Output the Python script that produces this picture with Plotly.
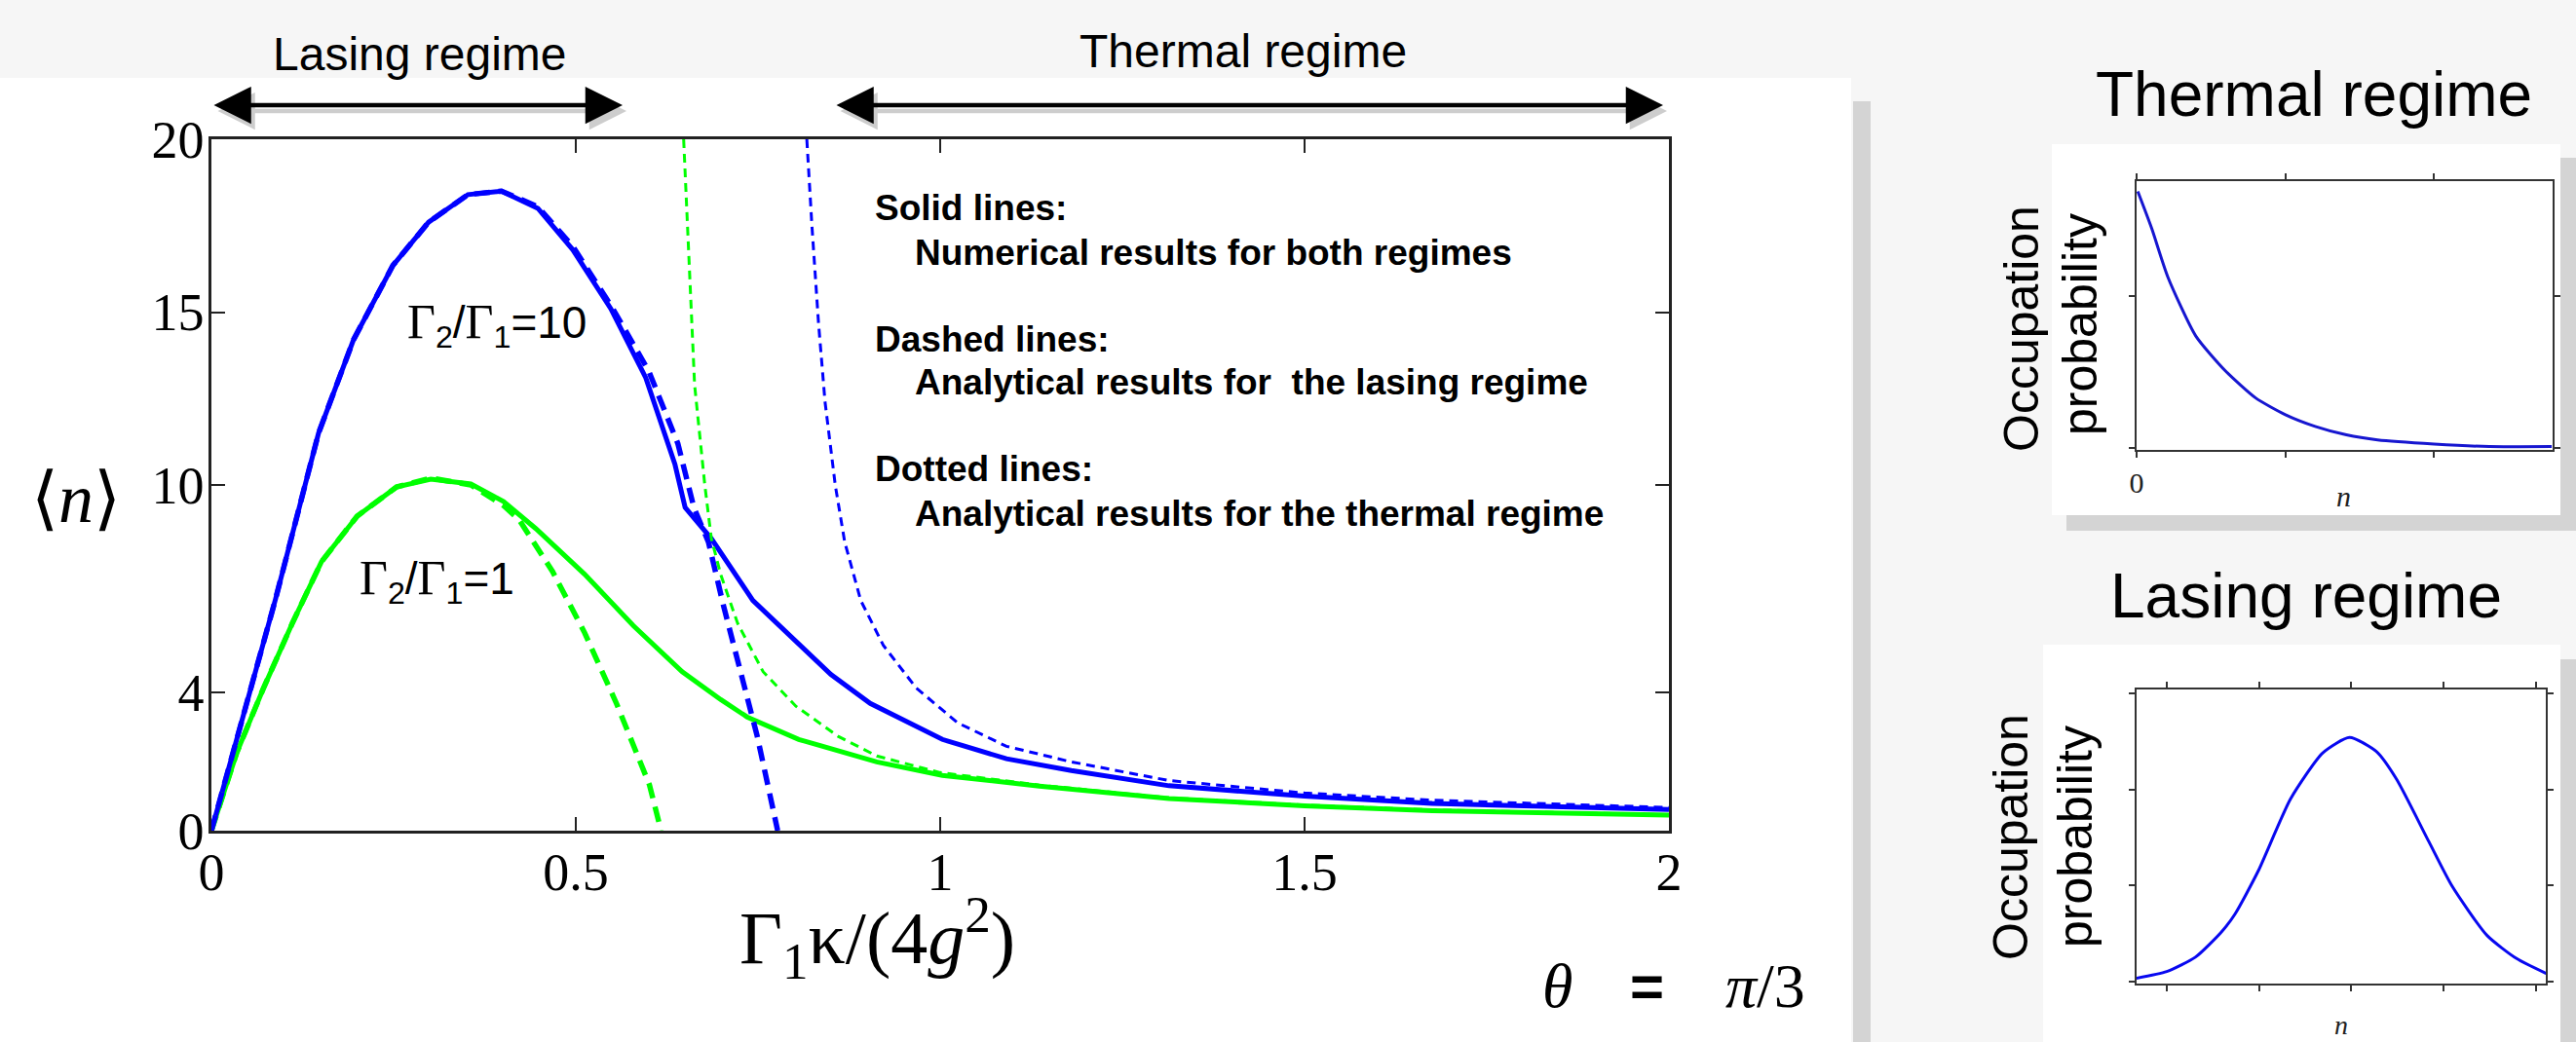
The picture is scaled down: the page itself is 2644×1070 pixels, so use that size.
import plotly.graph_objects as go

W, H = 2644, 1070

# ---------------- main panel data (x = Gamma1*kappa/(4g^2), y = <n>) ----------------
blue_num_x = [0, 0.044, 0.088, 0.131, 0.147, 0.195, 0.249, 0.298, 0.352, 0.398, 0.448, 0.496,
              0.548, 0.596, 0.636, 0.650, 0.686, 0.743, 0.793, 0.850, 0.904, 1.003, 1.091,
              1.180, 1.314, 1.500, 1.675, 2.0]
blue_num_y = [0, 3.3, 6.7, 10.2, 11.5, 14.2, 16.35, 17.6, 18.4, 18.5, 18.0, 16.8,
              15.1, 13.1, 10.6, 9.35, 8.45, 6.66, 5.65, 4.52, 3.68, 2.64, 2.08,
              1.74, 1.30, 1.00, 0.79, 0.61]

blue_las_x = [0, 0.044, 0.088, 0.131, 0.147, 0.195, 0.249, 0.298, 0.352, 0.398, 0.448, 0.496,
              0.548, 0.600, 0.640, 0.662, 0.682, 0.703, 0.726, 0.749, 0.777]
blue_las_y = [0, 3.3, 6.7, 10.2, 11.5, 14.2, 16.35, 17.6, 18.4, 18.5, 18.05, 16.9,
              15.2, 13.3, 11.2, 9.35, 8.35, 6.48, 4.6, 2.73, 0.0]

blue_th_x = [0.817, 0.824, 0.833, 0.842, 0.856, 0.869, 0.891, 0.922, 0.967, 1.024, 1.091,
             1.180, 1.314, 1.500, 1.675, 2.0]
blue_th_y = [20.0, 17.5, 14.7, 12.4, 10.0, 8.35, 6.66, 5.36, 4.13, 3.12, 2.44,
             1.99, 1.45, 1.09, 0.88, 0.67]

green_num_x = [0, 0.035, 0.071, 0.111, 0.151, 0.200, 0.254, 0.301, 0.356, 0.401, 0.445, 0.512,
               0.579, 0.646, 0.699, 0.735, 0.806, 0.913, 1.003, 1.136, 1.314, 1.500, 1.675, 2.0]
green_num_y = [0, 2.27, 4.1, 6.0, 7.78, 9.1, 9.94, 10.17, 10.03, 9.52, 8.74, 7.42,
               5.93, 4.6, 3.79, 3.29, 2.64, 1.99, 1.6, 1.29, 0.93, 0.72, 0.58, 0.45]

green_las_x = [0, 0.035, 0.071, 0.111, 0.151, 0.200, 0.254, 0.301, 0.356, 0.401, 0.422, 0.468,
               0.512, 0.556, 0.601, 0.617]
green_las_y = [0, 2.27, 4.1, 6.0, 7.78, 9.1, 9.94, 10.2, 10.0, 9.4, 9.0, 7.5,
               5.73, 3.67, 1.33, 0.0]

green_th_x = [0.648, 0.655, 0.663, 0.677, 0.686, 0.699, 0.722, 0.757, 0.802, 0.860, 0.913,
              1.0, 1.136, 1.314, 1.500, 1.675, 2.0]
green_th_y = [20.0, 16.6, 12.9, 10.0, 8.45, 7.4, 6.0, 4.6, 3.6, 2.73, 2.16,
              1.68, 1.32, 0.95, 0.74, 0.60, 0.46]

x_tick_vals = [0, 0.5, 1, 1.5, 2]
x_tick_text = ["0", "0.5", "1", "1.5", "2"]
y_tick_vals = [0, 4, 10, 15, 20]
y_tick_text = ["0", "4", "10", "15", "20"]

# ---------------- inset data ----------------
thermal_n = [0.08, 1.01, 2.1, 3.97, 5.98, 8.0, 10.0, 12.0, 14.1, 16.2, 20.0, 23.7, 27.9]
thermal_p = [0.1688, 0.1446, 0.1125, 0.0738, 0.0506, 0.0329, 0.0219, 0.0142, 0.0086,
             0.0053, 0.0026, 0.0009, 0.0009]

lasing_n = [6.7, 10.0, 13.1, 15.9, 17.4, 19.9, 23.4, 26.9, 29.8, 32.7, 34.9, 38.4,
            40.9, 44.7, 47.9, 51.1]
lasing_p = [0.0007, 0.0021, 0.0051, 0.0103, 0.0141, 0.0230, 0.0380, 0.0476, 0.0508,
            0.0479, 0.0421, 0.0291, 0.0199, 0.0096, 0.0048, 0.0017]

BLUE = "#0000ff"
GREEN = "#00ff00"


def px(x):
    return x / W


def py(y):
    return 1 - y / H


fig = go.Figure()

# solid: numerical
fig.add_trace(go.Scatter(x=green_num_x, y=green_num_y, mode="lines",
                         line=dict(color=GREEN, width=5), xaxis="x", yaxis="y"))
fig.add_trace(go.Scatter(x=blue_num_x, y=blue_num_y, mode="lines",
                         line=dict(color=BLUE, width=5), xaxis="x", yaxis="y"))
# dashed: lasing analytic
fig.add_trace(go.Scatter(x=green_las_x, y=green_las_y, mode="lines",
                         line=dict(color=GREEN, width=5.5, dash="16px,9px"), xaxis="x", yaxis="y"))
fig.add_trace(go.Scatter(x=blue_las_x, y=blue_las_y, mode="lines",
                         line=dict(color=BLUE, width=5.5, dash="16px,9px"), xaxis="x", yaxis="y"))
# dotted: thermal analytic
fig.add_trace(go.Scatter(x=green_th_x, y=green_th_y, mode="lines",
                         line=dict(color=GREEN, width=3, dash="9px,6px"), xaxis="x", yaxis="y"))
fig.add_trace(go.Scatter(x=blue_th_x, y=blue_th_y, mode="lines",
                         line=dict(color=BLUE, width=3, dash="9px,6px"), xaxis="x", yaxis="y"))

# insets
fig.add_trace(go.Scatter(x=thermal_n, y=thermal_p, mode="lines",
                         line=dict(color="#1616d0", width=3, shape="spline", smoothing=0.6),
                         xaxis="x2", yaxis="y2"))
fig.add_trace(go.Scatter(x=lasing_n, y=lasing_p, mode="lines",
                         line=dict(color="#0808f0", width=3, shape="spline", smoothing=0.6),
                         xaxis="x3", yaxis="y3"))

SERIF = "Liberation Serif, Times New Roman, DejaVu Serif, serif"
SANS = "Liberation Sans, Arial, DejaVu Sans, sans-serif"

main_axis = dict(showline=True, linewidth=2.5, linecolor="#222", mirror="allticks",
                 ticks="inside", ticklen=14, tickwidth=2, tickcolor="#222",
                 showgrid=False, zeroline=False, automargin=False,
                 tickfont=dict(family=SERIF, size=54, color="black"))
inset_axis = dict(showline=True, linewidth=2, linecolor="#333", mirror="allticks",
                  ticks="outside", ticklen=6, tickwidth=1.5, tickcolor="#333",
                  showgrid=False, zeroline=False, automargin=False,
                  tickfont=dict(family=SERIF, size=30, color="#222"))

shapes = []
# main white panel and its shadow bar
shapes.append(dict(type="rect", xref="paper", yref="paper", x0=px(0), x1=px(1900),
                   y0=py(1070), y1=py(80), fillcolor="white", line=dict(width=0), layer="below"))
shapes.append(dict(type="rect", xref="paper", yref="paper", x0=px(1902), x1=px(1920),
                   y0=py(1070), y1=py(104), fillcolor="#d4d4d4", line=dict(width=0), layer="below"))
# thermal inset box + shadow
shapes.append(dict(type="rect", xref="paper", yref="paper", x0=px(2628), x1=px(2644),
                   y0=py(545), y1=py(162), fillcolor="#d4d4d4", line=dict(width=0), layer="below"))
shapes.append(dict(type="rect", xref="paper", yref="paper", x0=px(2121), x1=px(2644),
                   y0=py(545), y1=py(529), fillcolor="#d4d4d4", line=dict(width=0), layer="below"))
shapes.append(dict(type="rect", xref="paper", yref="paper", x0=px(2106), x1=px(2628),
                   y0=py(529), y1=py(148), fillcolor="white", line=dict(width=0), layer="below"))
# lasing inset box + shadow
shapes.append(dict(type="rect", xref="paper", yref="paper", x0=px(2628), x1=px(2644),
                   y0=py(1070), y1=py(677), fillcolor="#d4d4d4", line=dict(width=0), layer="below"))
shapes.append(dict(type="rect", xref="paper", yref="paper", x0=px(2097), x1=px(2628),
                   y0=py(1070), y1=py(662), fillcolor="white", line=dict(width=0), layer="below"))

ann = []


def text(x, y, t, size, family=SANS, color="black", xanchor="center", angle=0):
    ann.append(dict(x=px(x), y=py(y), xref="paper", yref="paper", text=t, showarrow=False,
                    xanchor=xanchor, yanchor="middle", textangle=angle,
                    font=dict(family=family, size=size, color=color)))


def arrow(x0, x1, y, color, width):
    ann.append(dict(x=px(x1), y=py(y), xref="paper", yref="paper", text="",
                    ax=-(x1 - x0), ay=0, axref="pixel", ayref="pixel", showarrow=True,
                    arrowside="end+start", arrowhead=2, startarrowhead=2,
                    arrowsize=1.7, startarrowsize=1.7, arrowwidth=width, arrowcolor=color))


# regime arrows (shadow first)
arrow(222, 643, 114, "#cdcdcd", 4.5)
arrow(861, 1711, 114, "#cdcdcd", 4.5)
arrow(218, 639, 108, "black", 4.5)
arrow(857, 1707, 108, "black", 4.5)
text(431, 56, "Lasing regime", 48)
text(1276, 52, "Thermal regime", 48)

# curve labels
G = '<span style="font-family:Liberation Serif;font-size:50px">Γ</span>'
text(510, 333, G + "<sub>2</sub>/" + G + "<sub>1</sub>=10", 46)
text(448, 596, G + "<sub>2</sub>/" + G + "<sub>1</sub>=1", 46)

# legend text block
text(896, 214, "<b>Solid lines:</b>", 37, xanchor="left")
text(937, 259, "<b>Numerical results for both regimes</b>", 37, xanchor="left")
text(896, 348, "<b>Dashed lines:</b>", 37, xanchor="left")
text(937, 393, "<b>Analytical results for  the lasing regime</b>", 37, xanchor="left")
text(896, 481, "<b>Dotted lines:</b>", 37, xanchor="left")
text(937, 528, "<b>Analytical results for the thermal regime</b>", 37, xanchor="left")

# axis titles
text(78, 512, "⟨<i>n</i>⟩", 72, family=SERIF)
text(900, 963, "Γ<sub>1</sub>κ/(4<i>g</i><sup>2</sup>)", 76, family=SERIF)
text(1598, 1012, "<i>θ</i>", 64, family=SERIF)
text(1690, 1012, "<b>=</b>", 60, family=SANS)
text(1812, 1012, "<i>π</i>/3", 64, family=SERIF)

# inset texts
text(2375, 97, "Thermal regime", 64)
text(2367, 612, "Lasing regime", 64)
text(2075, 338, "Occupation", 50, angle=-90)
text(2135, 333, "probability", 50, angle=-90)
text(2064, 860, "Occupation", 50, angle=-90)
text(2130, 859, "probability", 50, angle=-90)
text(2405, 510, "<i>n</i>", 30, family=SERIF, color="#222")
text(2403, 1052, "<i>n</i>", 28, family=SERIF, color="#222")

fig.update_layout(
    width=W, height=H, autosize=False,
    margin=dict(l=0, r=0, t=0, b=0, pad=0, autoexpand=False),
    paper_bgcolor="#f6f6f6",
    plot_bgcolor="rgba(0,0,0,0)",
    showlegend=False,
    shapes=shapes,
    annotations=ann,
    xaxis=dict(main_axis, domain=[px(217), px(1713)], range=[0, 2], anchor="y",
               tickvals=x_tick_vals, ticktext=x_tick_text, ticklabelstandoff=-7),
    yaxis=dict(main_axis, domain=[py(853), py(143)], range=[0, 20], anchor="x",
               tickvals=y_tick_vals, ticktext=y_tick_text, ticklabelstandoff=-6),
    xaxis2=dict(inset_axis, domain=[px(2193), px(2620)], range=[0, 27.96], anchor="y2",
                tickvals=[0, 10, 20], ticktext=["0", "", ""]),
    yaxis2=dict(inset_axis, domain=[py(462), py(186)], range=[-0.0013, 0.1756], anchor="x2",
                tickvals=[0, 0.1], ticktext=["", ""]),
    xaxis3=dict(inset_axis, domain=[px(2193), px(2613)], range=[6.73, 51.06], anchor="y3",
                tickvals=[10, 20, 30, 40, 50], ticktext=["", "", "", "", ""]),
    yaxis3=dict(inset_axis, domain=[py(1010), py(708)], range=[-0.0004, 0.0608], anchor="x3",
                tickvals=[0, 0.02, 0.04, 0.06], ticktext=["", "", "", ""]),
)

fig.write_html("out.html",
               config={"displayModeBar": False},
               post_script="document.body.style.margin='0px';document.body.style.overflow='hidden';")
